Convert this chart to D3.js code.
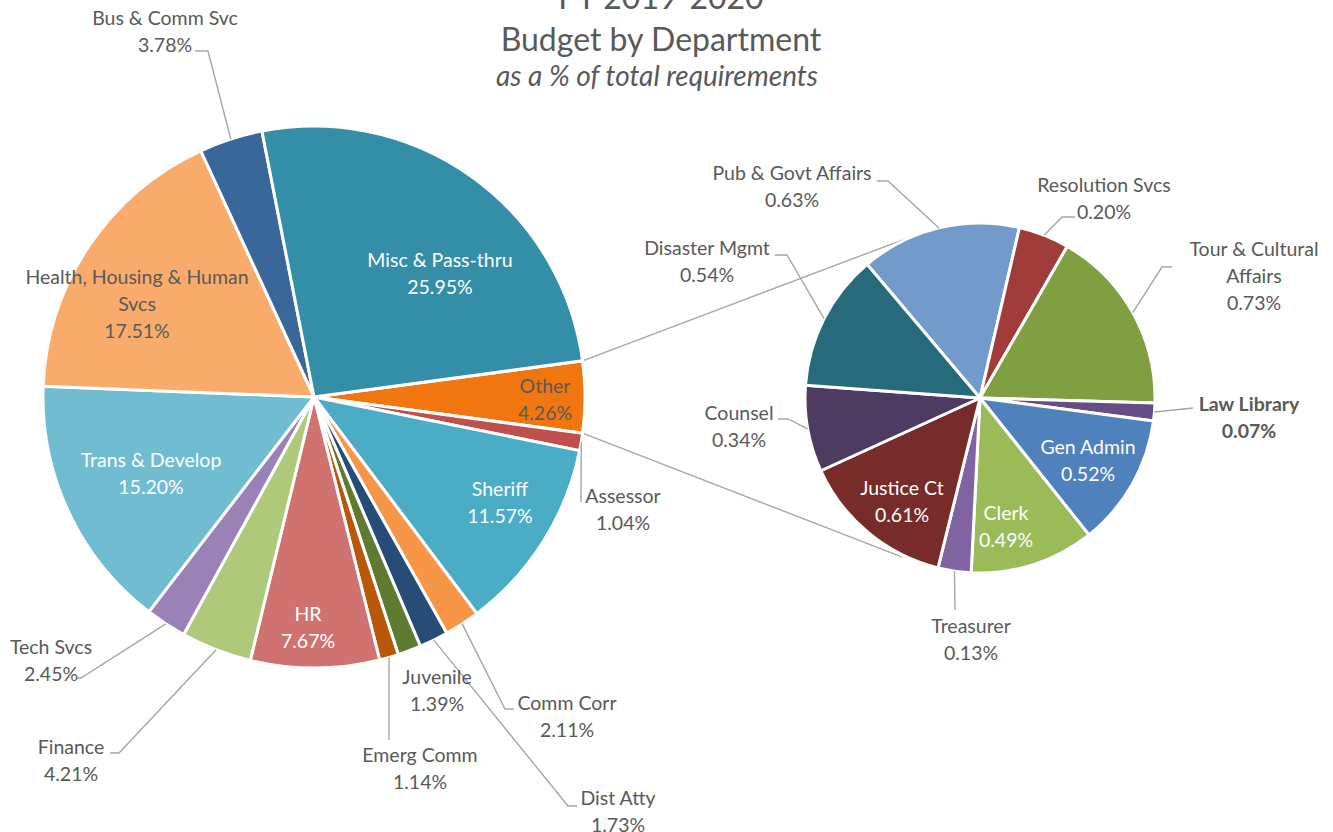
<!DOCTYPE html>
<html>
<head>
<meta charset="utf-8">
<script src="https://cdn.jsdelivr.net/npm/d3@7"></script>
<style>
  body { margin: 0; background: #fff; }
  svg { display: block; }
  text { font-family: Lato, "Liberation Sans", "DejaVu Sans", sans-serif; }
</style>
</head>
<body>
<svg id="chart" width="1333" height="832"></svg>
<script>
// ---- Data: FY 2019-2020 budget by department, % of total requirements ----
const mainCategories = ["Assessor", "Sheriff", "Comm Corr", "Dist Atty", "Juvenile", "Emerg Comm", "HR",
  "Finance", "Tech Svcs", "Trans & Develop", "Health, Housing & Human Svcs", "Bus & Comm Svc", "Misc & Pass-thru"];
const mainValues = [1.04, 11.57, 2.11, 1.73, 1.39, 1.14, 7.67, 4.21, 2.45, 15.20, 17.51, 3.78, 25.95];

// Small departments rolled into "Other" and broken out in the second pie
const otherName = "Other";
const otherCategories = ["Pub & Govt Affairs", "Resolution Svcs", "Tour & Cultural Affairs", "Law Library",
  "Gen Admin", "Clerk", "Treasurer", "Justice Ct", "Counsel", "Disaster Mgmt"];
const otherValues = [0.63, 0.20, 0.73, 0.07, 0.52, 0.49, 0.13, 0.61, 0.34, 0.54];

const titleLines = ["FY 2019-2020", "Budget by Department"];
const subtitle = "as a % of total requirements";

// ---- Styles ----
const mainColors = ["#C0504D", "#4BACC6", "#F79646", "#274C77", "#5F7B32", "#B9570B", "#D07270",
  "#AFC97A", "#9A82B7", "#70BCD1", "#F9AB6B", "#3A679A", "#358EA7"];
const otherColor = "#F1760F";
const subColors = ["#729ACA", "#A03C3A", "#7F9F40", "#674D86", "#4F81BD", "#9BBB59", "#8064A2",
  "#772C2A", "#4D3B62", "#276A7C"];

const textGray = "#595959";
const lineGray = "#A6A6A6";
const fontSize = 19.5;
const lineGap = 27;

// label placement relative to each pie's centre: [x, y of first line]
// leader: extra points after the slice's outer midpoint
const mainLabelLayout = {
  "Misc & Pass-thru": { at: [126, -137], fill: "#fff" },
  "Other": { at: [231, -11], fill: textGray },
  "Sheriff": { at: [186, 92], fill: "#fff" },
  "Assessor": { at: [309, 99], leader: [[267, 105]] },
  "Comm Corr": { at: [253, 306], leader: [[191, 312], [200, 312]] },
  "Dist Atty": { at: [304, 401], leader: [[254, 409], [263, 409]] },
  "Juvenile": { at: [123, 280] },
  "Emerg Comm": { at: [106, 358], leader: [[75, 343]] },
  "HR": { at: [-6, 217], fill: "#fff" },
  "Finance": { at: [-243, 350], leader: [[-195, 356], [-204, 356]] },
  "Tech Svcs": { at: [-263, 250], leader: [[-233, 281], [-238, 281]] },
  "Trans & Develop": { at: [-163, 63], fill: "#fff" },
  "Health, Housing & Human Svcs": { at: [-177, -120], fill: textGray, lines: ["Health, Housing & Human", "Svcs"] },
  "Bus & Comm Svc": { at: [-149, -379], leader: [[-106, -346], [-119, -346]] }
};
const subLabelLayout = {
  "Pub & Govt Affairs": { at: [-188, -225], leader: [[-92, -217], [-103, -217]] },
  "Resolution Svcs": { at: [124, -213], leader: [[82, -181], [95, -181]] },
  "Tour & Cultural Affairs": { at: [274, -149], leader: [[182, -131], [192, -131]], lines: ["Tour & Cultural", "Affairs"] },
  "Law Library": { at: [269, 6], leader: [[213, 10]], bold: true },
  "Gen Admin": { at: [108, 49], fill: "#fff" },
  "Clerk": { at: [26, 115], fill: "#fff" },
  "Treasurer": { at: [-9, 228], leader: [[-25, 212]] },
  "Justice Ct": { at: [-78, 90], fill: "#fff" },
  "Counsel": { at: [-241, 15], leader: [[-192, 21], [-202, 21]] },
  "Disaster Mgmt": { at: [-273, -150], leader: [[-193, -143], [-205, -143]] }
};

// ---- Geometry ----
const mainCenter = [314, 397], mainR = 271;
const subCenter = [980, 398], subR = 175;
const deg = Math.PI / 180;

const svg = d3.select("#chart");

const otherTotal = d3.sum(otherValues);
const mainData = [{ name: otherName, value: otherTotal, color: otherColor }]
  .concat(mainCategories.map((c, i) => ({ name: c, value: mainValues[i], color: mainColors[i] })));
const subData = otherCategories.map((c, i) => ({ name: c, value: otherValues[i], color: subColors[i] }));

// "Other" is centred on the 3 o'clock direction
const otherSpan = otherTotal / d3.sum(mainData, d => d.value) * 2 * Math.PI;
const mainStart = Math.PI / 2 - otherSpan / 2;
const mainPie = d3.pie().sort(null).value(d => d.value)
  .startAngle(mainStart).endAngle(mainStart + 2 * Math.PI);
const subStart = -40.2 * deg;
const subPie = d3.pie().sort(null).value(d => d.value)
  .startAngle(subStart).endAngle(subStart + 2 * Math.PI);

const mainArcs = mainPie(mainData);
const subArcs = subPie(subData);

const fmt = v => v.toFixed(2) + "%";
const polar = (c, r, a) => [c[0] + r * Math.sin(a), c[1] - r * Math.cos(a)];

// ---- Connector lines between the "Other" slice and the breakout pie ----
const otherArc = mainArcs[0];
const connectors = [
  [polar(mainCenter, mainR, otherArc.startAngle), polar(subCenter, subR + 1, -26 * deg)],
  [polar(mainCenter, mainR, otherArc.endAngle), polar(subCenter, subR + 2, 206 * deg)]
];
svg.append("g").selectAll("line").data(connectors).join("line")
  .attr("x1", d => d[0][0]).attr("y1", d => d[0][1])
  .attr("x2", d => d[1][0]).attr("y2", d => d[1][1])
  .attr("stroke", lineGray).attr("stroke-width", 1.4);

function drawPie(arcs, center, r, layout) {
  const arc = d3.arc().innerRadius(0).outerRadius(r);
  const g = svg.append("g").attr("transform", `translate(${center[0]},${center[1]})`);
  g.selectAll("path").data(arcs).join("path")
    .attr("d", arc)
    .attr("fill", d => d.data.color)
    .attr("stroke", "#fff")
    .attr("stroke-width", 3)
    .attr("stroke-linejoin", "round");

  // leader lines from the slice's outer midpoint
  const withLeader = arcs.filter(d => layout[d.data.name] && layout[d.data.name].leader);
  g.selectAll("polyline").data(withLeader).join("polyline")
    .attr("points", d => {
      const mid = (d.startAngle + d.endAngle) / 2;
      const p0 = polar([0, 0], r, mid);
      return [p0].concat(layout[d.data.name].leader).map(p => p.join(",")).join(" ");
    })
    .attr("fill", "none")
    .attr("stroke", lineGray)
    .attr("stroke-width", 1.4);

  // labels: category name then percentage
  arcs.forEach(d => {
    const L = layout[d.data.name];
    if (!L) return;
    const lines = (L.lines || [d.data.name]).concat([fmt(d.data.value)]);
    const t = g.append("text")
      .attr("text-anchor", "middle")
      .attr("font-size", fontSize)
      .attr("font-weight", L.bold ? "bold" : "normal")
      .attr("fill", L.fill || textGray);
    lines.forEach((s, i) => {
      t.append("tspan")
        .attr("x", L.at[0])
        .attr("y", L.at[1] + i * lineGap)
        .attr("dy", "0.35em")
        .text(s);
    });
  });
}

drawPie(mainArcs, mainCenter, mainR, mainLabelLayout);
drawPie(subArcs, subCenter, subR, subLabelLayout);

// ---- Title ----
const title = svg.append("g").attr("fill", textGray).attr("text-anchor", "middle");
title.append("text").attr("x", 661).attr("y", 9).attr("font-size", 32).text(titleLines[0]);
title.append("text").attr("x", 661).attr("y", 51).attr("font-size", 32).text(titleLines[1]);
title.append("text").attr("x", 657).attr("y", 86).attr("font-size", 28).attr("font-style", "italic").text(subtitle);
</script>
</body>
</html>
